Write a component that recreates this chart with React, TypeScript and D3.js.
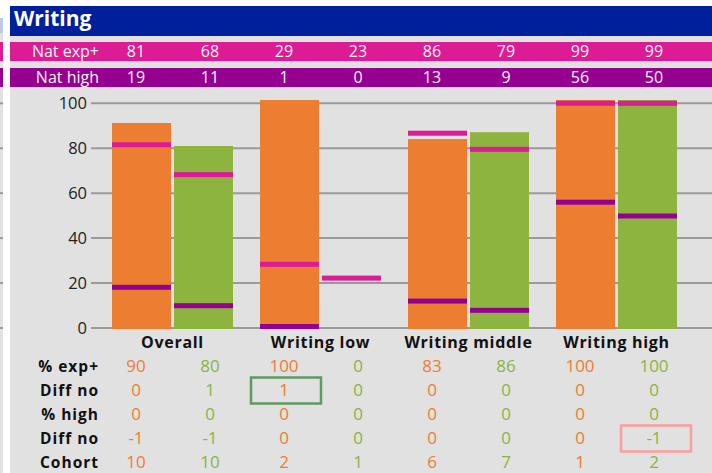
import * as d3 from "d3";

// one entry per column: each group has an orange and a green column
const groups = ["Overall", "Writing low", "Writing middle", "Writing high"];
const seriesColors = ["#ed7d31", "#8cb43f"];
const expPlus = [90, 80, 100, 0, 83, 86, 100, 100];
const diffExp = [0, 1, 1, 0, 0, 0, 0, 0];
const pctHigh = [0, 0, 0, 0, 0, 0, 0, 0];
const diffHigh = [-1, -1, 0, 0, 0, 0, 0, -1];
const cohort = [10, 10, 2, 1, 6, 7, 1, 2];
const natExp = [81, 68, 29, 23, 86, 79, 99, 99];
const natHigh = [19, 11, 1, 0, 13, 9, 56, 50];
const yTicks = [0, 20, 40, 60, 80, 100];
const tableRows = ["% exp+", "Diff no", "% high", "Diff no", "Cohort"];
const tableValues = [expPlus, diffExp, pctHigh, diffHigh, cohort];
const highlights = [
  { row: 1, col: 2, color: "#5f9a5f" },
  { row: 3, col: 7, color: "#ff9c9c" },
];

const W = 712;
const H = 473;
const FONT = "'Open Sans', sans-serif";
const PINK = "#dc1c94";
const PURPLE = "#960091";
const GRID = "#9a9a9a";

export default function App() {
  const cols = d3.range(expPlus.length);
  const xCol = d3.scaleBand<number>().domain(cols).range([99, 691]);
  const xGroup = d3
    .scaleBand<string>()
    .domain(groups)
    .range([98.5, 690.5])
    .paddingInner(0.1824)
    .paddingOuter(0.0912);
  const xSub = d3
    .scaleBand<number>()
    .domain([0, 1])
    .range([0, xGroup.bandwidth()])
    .paddingInner(0.0484);
  // bars and the axis sit on slightly different scales in the original
  const yBar = d3.scaleLinear().domain([0, 100]).range([330, 100]);
  const yAxis = d3.scaleLinear().domain([0, 100]).range([328, 103.3]);
  const yRow = d3.scalePoint<number>().domain(d3.range(tableRows.length)).range([366, 462]);

  const barX = (i: number) => xGroup(groups[Math.floor(i / 2)])! + xSub(i % 2)!;
  const bw = xSub.bandwidth();

  return (
    <svg
      width={W}
      height={H}
      style={{ position: "absolute", left: 0, top: 0, fontFamily: FONT }}
    >
      <rect width={W} height={H} fill="#fff" />
      {/* cropped neighbour panel on the left */}
      <rect x={0} y={18} width={3} height={H - 18} fill="#e2e2e2" />
      <rect x={0} y={18} width={3} height={15} fill="#c3c8e4" />
      <rect x={0} y={42} width={3} height={19} fill={PINK} />
      <rect x={0} y={68} width={3} height={19} fill={PURPLE} />
      {yTicks.map((t) => (
        <rect key={"lt" + t} x={0} y={yAxis(t) - 1} width={3} height={2} fill={GRID} />
      ))}

      {/* panel */}
      <rect x={10} y={6} width={W - 10} height={H - 6} fill="#e1e1e1" />
      <rect x={10} y={6} width={W - 10} height={30} fill="#00209b" />
      <text x={14} y={26} fill="#fff" fontSize={21} fontWeight="bold">
        Writing
      </text>

      <rect x={10} y={42} width={W - 10} height={19} fill={PINK} />
      <rect x={10} y={68} width={W - 10} height={19} fill={PURPLE} />
      {[
        { label: "Nat exp+", vals: natExp, cy: 51.5 },
        { label: "Nat high", vals: natHigh, cy: 77.5 },
      ].map((r) => (
        <g key={r.label} fill="#f4f4f4" fontSize={16}>
          <text x={99} y={r.cy} dy="0.35em" textAnchor="end">
            {r.label}
          </text>
          {r.vals.map((v, i) => (
            <text key={i} x={xCol(i)! + xCol.bandwidth() / 2} y={r.cy} dy="0.35em" textAnchor="middle">
              {v}
            </text>
          ))}
        </g>
      ))}

      {/* grid and y axis */}
      {yTicks.map((t) => (
        <g key={t}>
          <line x1={91} x2={W} y1={yAxis(t)} y2={yAxis(t)} stroke={GRID} strokeWidth={2} />
          <text x={87} y={yAxis(t)} dy="0.36em" textAnchor="end" fontSize={16.5} fill="#222">
            {t}
          </text>
        </g>
      ))}

      {/* bars */}
      {cols.map((i) =>
        expPlus[i] > 0 ? (
          <rect
            key={"b" + i}
            x={barX(i)}
            y={yBar(expPlus[i])}
            width={bw}
            height={yBar(0) - yBar(expPlus[i]) - 1}
            fill={seriesColors[i % 2]}
          />
        ) : null
      )}
      {/* national markers */}
      {cols.map((i) => (
        <g key={"m" + i}>
          {natExp[i] > 0 && (
            <rect x={barX(i)} y={yBar(natExp[i]) - 1.5} width={bw} height={5} fill={PINK} />
          )}
          {natHigh[i] > 0 && (
            <rect x={barX(i)} y={Math.min(yBar(natHigh[i]) - 1.5, 324)} width={bw} height={5} fill={PURPLE} />
          )}
        </g>
      ))}

      {/* group labels */}
      {groups.map((g) => (
        <text
          key={g}
          x={xGroup(g)! + xGroup.bandwidth() / 2}
          y={348}
          textAnchor="middle"
          fontSize={16}
          fontWeight="bold"
          letterSpacing={0.7}
          fill="#111"
        >
          {g}
        </text>
      ))}

      {/* table */}
      {tableRows.map((label, r) => (
        <g key={"r" + r}>
          <text
            x={99}
            y={yRow(r)}
            dy="0.36em"
            textAnchor="end"
            fontSize={15.5}
            fontWeight="bold"
            letterSpacing={1}
            fill="#111"
          >
            {label}
          </text>
          {tableValues[r].map((v, i) => (
            <text
              key={i}
              x={xCol(i)! + xCol.bandwidth() / 2}
              y={yRow(r)}
              dy="0.36em"
              textAnchor="middle"
              fontSize={17}
              fill={seriesColors[i % 2]}
            >
              {v}
            </text>
          ))}
        </g>
      ))}
      {highlights.map((h, k) => (
        <rect
          key={"h" + k}
          x={xCol(h.col)! + 4}
          y={yRow(h.row)! - 12.5}
          width={xCol.bandwidth() - 4}
          height={26}
          fill="none"
          stroke={h.color}
          strokeWidth={2.5}
        />
      ))}
    </svg>
  );
}
